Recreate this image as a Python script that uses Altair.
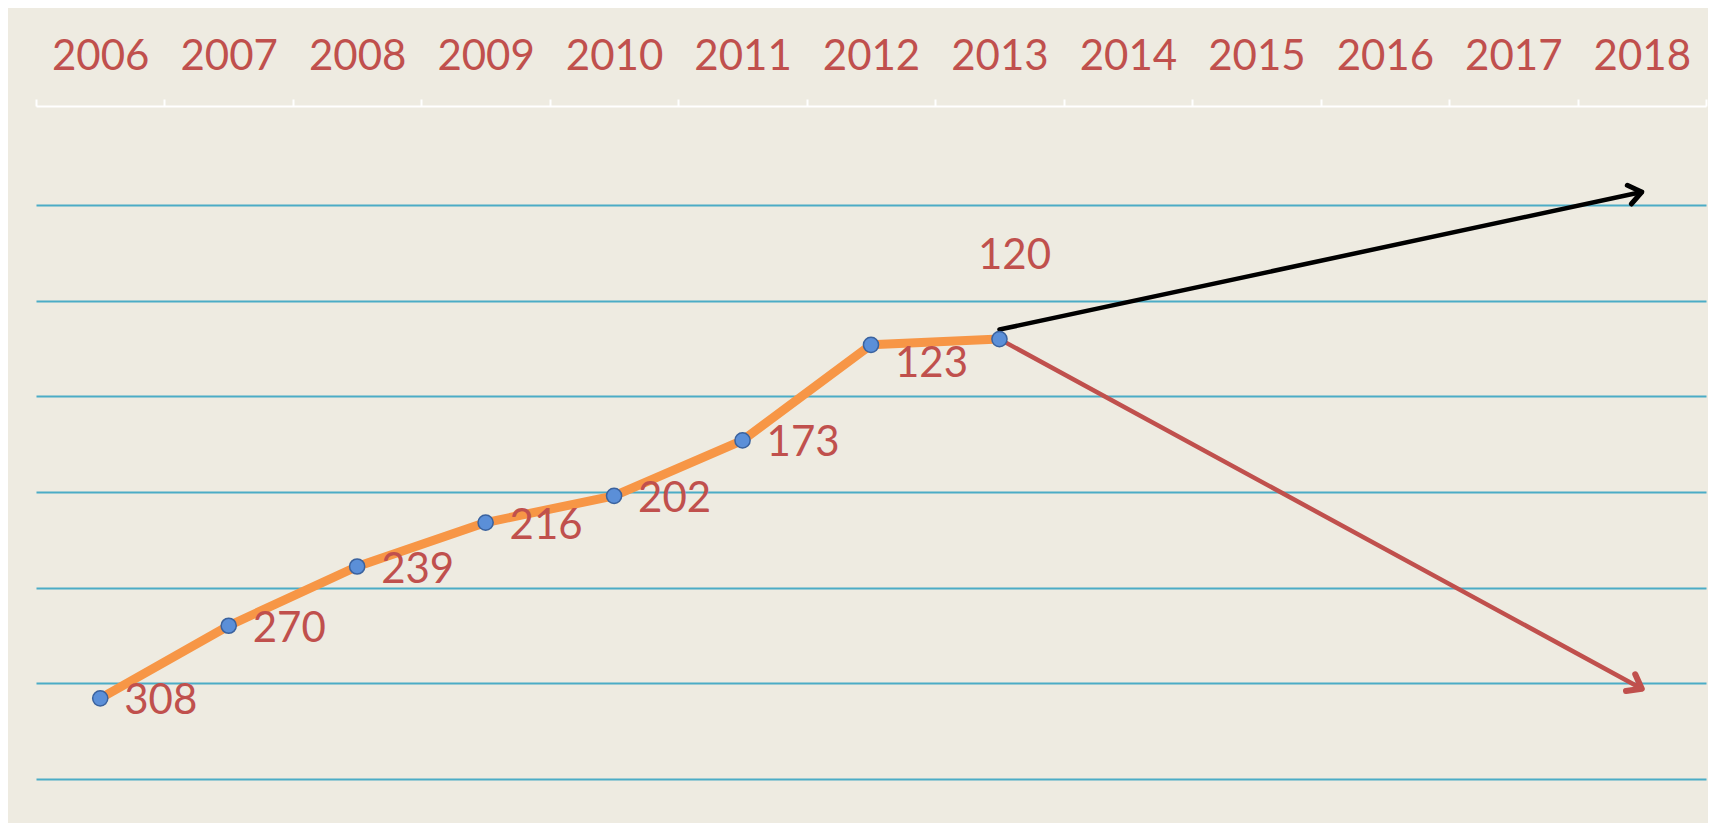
import altair as alt
import pandas as pd

years = [str(y) for y in range(2006, 2019)]
data_years = ["2006", "2007", "2008", "2009", "2010", "2011", "2012", "2013"]
values = [308, 270, 239, 216, 202, 173, 123, 120]

arrow_ids = ["up", "up", "down", "down"]
arrow_years = ["2013", "2018", "2013", "2018"]
arrow_values = [115, 43, 120, 303]

grid_values = [50, 100, 150, 200, 250, 300, 350]

df = pd.DataFrame({"year": data_years, "value": values, "label": [str(v) for v in values]})
arr = pd.DataFrame({"arrow": arrow_ids, "year": arrow_years, "value": arrow_values})

LABEL_COLOR = "#C0504D"
FONT = "Lato"
FS = 42

x_enc = alt.X(
    "year:O",
    scale=alt.Scale(type="band", domain=years, paddingInner=0, paddingOuter=0),
    axis=alt.Axis(
        orient="top", title=None, labelAngle=0, labelFont=FONT, labelFontSize=FS,
        labelColor=LABEL_COLOR, labelPadding=30, labelBaseline="alphabetic",
        tickBand="extent", tickSize=7, tickColor="#FFFFFF", tickWidth=2,
        domainColor="#FFFFFF", domainWidth=2, grid=False,
    ),
)
y_enc = alt.Y(
    "value:Q",
    scale=alt.Scale(domain=[-2, 368], reverse=True, nice=False, zero=False),
    axis=alt.Axis(
        values=grid_values, grid=True, gridColor="#4BACC6", gridWidth=2,
        labels=False, ticks=False, domain=False, title=None,
    ),
)

base = alt.Chart(df)

line = base.mark_line(color="#F79646", strokeWidth=9, strokeCap="round",
                      strokeJoin="round").encode(x=x_enc, y=y_enc)

arrows = alt.Chart(arr).mark_line(strokeWidth=4.5, strokeCap="round").encode(
    x=alt.X("year:O"),
    y=alt.Y("value:Q"),
    detail="arrow:N",
    color=alt.Color("arrow:N", scale=alt.Scale(domain=["up", "down"], range=["#000000", "#C0504D"]), legend=None),
)

chevron = "M -1 -0.75 L 0 0 L -1 0.75"
head_up = alt.Chart(arr).transform_filter(
    (alt.datum.arrow == "up") & (alt.datum.year == "2018")
).mark_point(shape=chevron, size=650, filled=False, stroke="#000000", strokeWidth=5,
             strokeCap="round", strokeJoin="round", angle=348, opacity=1).encode(
    x=alt.X("year:O"), y=alt.Y("value:Q"))
head_down = alt.Chart(arr).transform_filter(
    (alt.datum.arrow == "down") & (alt.datum.year == "2018")
).mark_point(shape=chevron, size=650, filled=False, stroke="#C0504D", strokeWidth=6,
             strokeCap="round", strokeJoin="round", angle=29, opacity=1).encode(
    x=alt.X("year:O"), y=alt.Y("value:Q"))

points = base.mark_point(shape="circle", filled=True, size=230, fill="#5B8FD8",
                         stroke="#3A629E", strokeWidth=1.5, opacity=1).encode(x=x_enc, y=y_enc)

labels_main = base.transform_filter(
    alt.datum.value > 123
).mark_text(align="left", baseline="middle", dx=24, dy=3, font=FONT, fontSize=FS,
            color=LABEL_COLOR).encode(x=x_enc, y=y_enc, text="label:N")
label_123 = base.transform_filter(
    alt.datum.value == 123
).mark_text(align="left", baseline="middle", dx=24, dy=19, font=FONT, fontSize=FS,
            color=LABEL_COLOR).encode(x=x_enc, y=y_enc, text="label:N")
label_120 = base.transform_filter(
    alt.datum.value == 120
).mark_text(align="center", baseline="middle", dx=15, dy=-83, font=FONT, fontSize=FS,
            color=LABEL_COLOR).encode(x=x_enc, y=y_enc, text="label:N")

chart = alt.layer(
    line, arrows, head_up, head_down, points, labels_main, label_123, label_120
).properties(
    width=1670, height=707,
    autosize=alt.AutoSizeParams(type="none"),
    padding={"left": 28, "top": 98, "right": 2, "bottom": 10},
    background="#EEEBE1",
).configure_view(stroke=None)

chart.save("out.html", embed_options={"renderer": "svg", "actions": False})
